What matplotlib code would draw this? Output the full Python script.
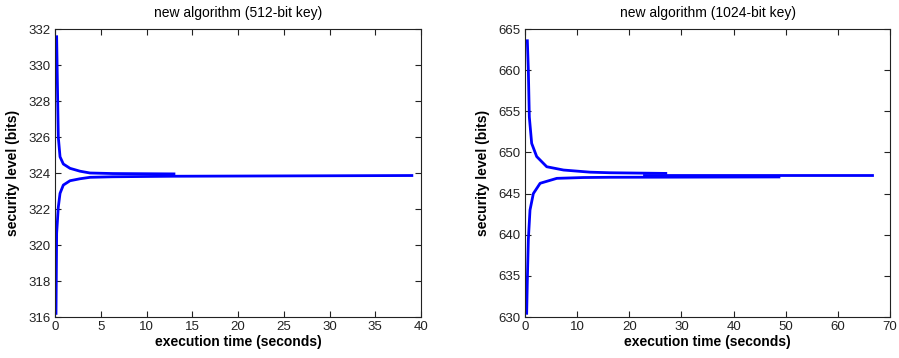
import numpy as np
import matplotlib.pyplot as plt

plt.rcParams['font.family'] = ['Liberation Sans', 'DejaVu Sans']

# 512-bit key: curve converging from above and from below
t512_up = [0.18, 0.25, 0.36, 0.55, 0.91, 1.64, 2.73, 3.83, 6.3, 13.0]
s512_up = [331.57, 329.35, 326.0, 324.9, 324.5, 324.26, 324.1, 324.0, 323.97, 323.95]
t512_lo = [0.11, 0.18, 0.36, 0.55, 0.91, 1.64, 2.73, 3.83, 6.3, 13.0, 39.0]
s512_lo = [316.2, 320.65, 322.1, 322.87, 323.33, 323.57, 323.68, 323.76, 323.79, 323.82, 323.86]

# 1024-bit key
t1024_up = [0.45, 0.64, 0.83, 1.28, 2.24, 4.17, 7.4, 12.5, 16.3, 27.0]
s1024_up = [663.57, 660.0, 654.3, 651.1, 649.5, 648.26, 647.86, 647.6, 647.53, 647.45]
t1024_lo = [0.32, 0.45, 0.64, 0.96, 1.6, 2.9, 6.1, 11.2, 16.3, 48.7]
s1024_lo = [630.45, 634.5, 639.4, 643.0, 645.0, 646.25, 646.85, 646.95, 646.98, 647.02]
t1024_tail = [22.9, 66.5]
s1024_tail = [647.22, 647.22]

fig = plt.figure(figsize=(8.99, 3.58), dpi=100)
ax1 = fig.add_axes([55/899, 1-317/358, 366/899, 288/358])
ax2 = fig.add_axes([525/899, 1-317/358, 365/899, 288/358])

lw = 2.0
ax1.plot(t512_up, s512_up, color='#0000ff', lw=lw)
ax1.plot(t512_lo, s512_lo, color='#0000ff', lw=lw)
ax2.plot(t1024_up, s1024_up, color='#0000ff', lw=lw)
ax2.plot(t1024_lo, s1024_lo, color='#0000ff', lw=lw)
ax2.plot(t1024_tail, s1024_tail, color='#0000ff', lw=lw)

ax1.set_xlim(0, 40)
ax1.set_ylim(316, 332)
ax1.set_xticks(np.arange(0, 41, 5))
ax1.set_yticks(np.arange(316, 333, 2))
ax1.set_title('new algorithm (512-bit key)', fontsize=10, pad=9)

ax2.set_xlim(0, 70)
ax2.set_ylim(630, 665)
ax2.set_xticks(np.arange(0, 71, 10))
ax2.set_yticks(np.arange(630, 666, 5))
ax2.set_title('new algorithm (1024-bit key)', fontsize=10, pad=9)

for ax in (ax1, ax2):
    ax.set_xlabel('execution time (seconds)', fontsize=10, fontweight='bold', labelpad=1)
    ax.set_ylabel('security level (bits)', fontsize=10, fontweight='bold', labelpad=6)
    ax.tick_params(direction='in', top=True, right=True, labelsize=9.5, length=4,
                   colors='#222222', pad=3)
    for sp in ax.spines.values():
        sp.set_linewidth(0.8)
        sp.set_color('#222222')

fig.savefig('out.png', dpi=100)
